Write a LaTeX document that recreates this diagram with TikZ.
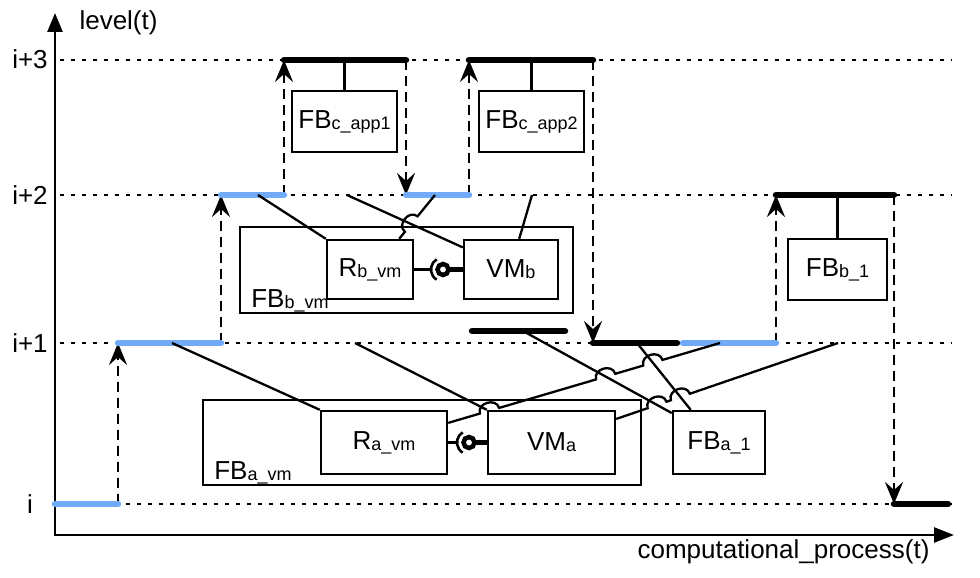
\documentclass[tikz,border=0pt]{standalone}
\usepackage{fontspec}
\setmainfont{Liberation Sans}
\usetikzlibrary{arrows.meta,calc,intersections}
\definecolor{lvlblue}{RGB}{112,170,248}
\newcommand\sbs[1]{{\fontsize{18}{20}\selectfont\raisebox{-1pt}{#1}}}
\begin{document}
\begin{tikzpicture}[x=1pt,y=-1pt,
  every node/.style={font=\fontsize{26}{30}\selectfont},
  box/.style={draw, line width=2.4pt, inner sep=0pt},
  lvl/.style={line width=6.5pt, line cap=round},
  blueseg/.style={lvl, draw=lvlblue},
  blackseg/.style={lvl, draw=black},
  guide/.style={line width=2.6pt, dash pattern=on 3.5pt off 7.5pt},
  jumparrow/.style={line width=2.8pt, dash pattern=on 10pt off 6pt, -{Stealth[length=22pt,width=18pt,inset=8pt]}},
  link/.style={line width=2.3pt},
  axis/.style={line width=2.5pt},
  hop/.style n args={3}{insert path={-- ($(#1)!10pt!(#2)$) .. controls ($(#1)!10pt!(#2)!11pt!90:(#3)$) and ($(#1)!10pt!(#3)!11pt!-90:(#2)$) .. ($(#1)!10pt!(#3)$)}}
]
\useasboundingbox (0,0) rectangle (980,578);

% guides
\foreach \yy in {60,195,343,504} \draw[guide] (60,\yy) -- (952,\yy);

% axes
\coordinate (O) at (55,535);
\coordinate (ytop) at (55,13);
\coordinate (xend) at (954,535);
\draw[axis, {Triangle[length=19pt,width=15pt]}-{Triangle[length=20pt,width=15pt]}] (ytop) -- (O) -- (xend);
\node[anchor=base west] (ylab) at (76,30) {level(t)};
\node[anchor=base east] (xlab) at (933,558) {computational\_process(t)};
\node[anchor=base] (lab3) at (30,69) {i+3};
\node[anchor=base] (lab2) at (30,204) {i+2};
\node[anchor=base] (lab1) at (30,352) {i+1};
\node[anchor=base] (lab0) at (30,513) {i};

% segment end points
\coordinate (s0a) at (55,504);  \coordinate (s0b) at (118,504);
\coordinate (s1a) at (118,343); \coordinate (s1b) at (221,343);
\coordinate (s2a) at (221,195); \coordinate (s2b) at (284,195);
\coordinate (s3a) at (284,60);  \coordinate (s3b) at (406,60);
\coordinate (s4a) at (406,195); \coordinate (s4b) at (469,195);
\coordinate (s5a) at (469,60);  \coordinate (s5b) at (593,60);
\coordinate (s6a) at (593,343); \coordinate (s6b) at (677,343);
\coordinate (s7a) at (683,343); \coordinate (s7b) at (776,343);
\coordinate (s8a) at (776,195); \coordinate (s8b) at (894,195);
\coordinate (s9a) at (894,504); \coordinate (s9b) at (948,504);
\coordinate (sfa) at (472,331); \coordinate (sfb) at (565,331);

% jumps between levels
\draw[jumparrow] (s0b) -- (s1a);
\draw[jumparrow] (s1b) -- (s2a);
\draw[jumparrow] (s2b) -- (s3a);
\draw[jumparrow] (s3b) -- (s4a);
\draw[jumparrow] (s4b) -- (s5a);
\draw[jumparrow] (s5b) -- (s6a);
\draw[jumparrow] (s7b) -- (s8a);
\draw[jumparrow] (s8b) -- (s9a);

% level segments
\draw[blueseg] (s0a) -- (s0b);
\draw[blueseg] (s1a) -- (s1b);
\draw[blueseg] (s2a) -- (s2b);
\draw[blackseg] (s3a) -- (s3b);
\draw[blueseg] (s4a) -- (s4b);
\draw[blackseg] (s5a) -- (s5b);
\draw[blackseg] (s6a) -- (s6b);
\draw[blueseg] (s7a) -- (s7b);
\draw[blackseg] (s8a) -- (s8b);
\draw[blackseg] (s9a) -- (s9b);
\draw[blackseg] (sfa) -- (sfb);

% boxes
\node[box, minimum width=105pt, minimum height=61pt] (fbc1) at (344.5,121.5) {FB\sbs{c\_app1}};
\node[box, minimum width=105pt, minimum height=61pt] (fbc2) at (531.5,121.5) {FB\sbs{c\_app2}};
\node[box, minimum width=99pt, minimum height=61pt] (fbb1) at (837.5,269.5) {FB\sbs{b\_1}};
\node[box, minimum width=333pt, minimum height=86pt] (fbbvm) at (406.5,270) {};
\node[anchor=base west] (fbbvmlab) at ([shift={(9pt,7pt)}]fbbvm.south west) {FB\sbs{b\_vm}};
\node[box, minimum width=86pt, minimum height=59pt] (rbvm) at (370,269.5) {R\sbs{b\_vm}};
\node[box, minimum width=94pt, minimum height=59pt] (vmb) at (511,269.5) {VM\sbs{b}};
\node[box, minimum width=438pt, minimum height=85pt] (fbavm) at (422,442.5) {};
\node[anchor=base west] (fbavmlab) at ([shift={(9pt,7pt)}]fbavm.south west) {FB\sbs{a\_vm}};
\node[box, minimum width=126pt, minimum height=63pt] (ravm) at (384,442.5) {R\sbs{a\_vm}};
\node[box, minimum width=127pt, minimum height=63pt] (vma) at (551.5,442.5) {VM\sbs{a}};
\node[box, minimum width=92pt, minimum height=63pt] (fba1) at (719,442.5) {FB\sbs{a\_1}};

% vertical connectors to upper segments
\draw[link] (fbc1.north) -- (fbc1.north |- s3a);
\draw[link] (fbc2.north) -- (fbc2.north |- s5a);
\draw[link] (fbb1.north) -- (fbb1.north |- s8a);

% lollipop interfaces
\coordinate (bb) at (443,269.5);
\draw[link] (rbvm.east) -- ([xshift=-12pt]bb);
\draw[line width=2.6pt] ([shift={(122:12pt)}]bb) arc[start angle=122, end angle=238, radius=12pt];
\draw[line width=4.5pt] (bb) circle[radius=5.5pt];
\draw[line width=4.5pt] ([xshift=5.5pt]bb) -- (vmb.west);

\coordinate (ab) at (469,442.5);
\draw[link] (ravm.east) -- ([xshift=-12pt]ab);
\draw[line width=2.6pt] ([shift={(122:12pt)}]ab) arc[start angle=122, end angle=238, radius=12pt];
\draw[line width=4.5pt] (ab) circle[radius=5.5pt];
\draw[line width=4.5pt] ([xshift=5.5pt]ab) -- (vma.west);

% connector end points
\coordinate (p1) at (172,343);
\coordinate (p2) at (355,343);
\coordinate (a3) at ($(ravm.north east)!0.2!(ravm.south east)$);
\coordinate (b3) at (720,343);
\coordinate (a4) at ($(vma.north east)!0.14!(vma.south east)$);
\coordinate (b4) at (838,343);
\coordinate (p5) at (523,331);
\coordinate (e5) at ($(fba1.north west)!0.05!(fba1.south west)$);
\coordinate (p6) at (637,343);
\coordinate (e6) at ($(fba1.north west)!0.2!(fba1.north east)$);
\coordinate (p7) at (258,195);
\coordinate (p8) at (347,195);
\coordinate (e8) at ($(vmb.north west)!0.14!(vmb.south west)$);
\coordinate (a9) at ($(rbvm.north west)!0.83!(rbvm.north east)$);
\coordinate (b9) at (435,195);
\coordinate (p10) at (532,195);
\coordinate (e10) at ($(vmb.north west)!0.585!(vmb.north east)$);

% straight connectors
\draw[link] (p1) -- (ravm.north west);
\draw[link] (p2) -- (vma.north west);
\draw[link, name path=l5p] (p5) -- (e5);
\draw[link, name path=l6p] (p6) -- (e6);
\draw[link] (p7) -- (rbvm.north west);
\draw[link, name path=l8p] (p8) -- (e8);
\draw[link] (p10) -- (e10);

% connectors with line jumps
\path[name path=l3p] (a3) -- (b3);
\path[name path=l4p] (a4) -- (b4);
\path[name path=l9p] (a9) -- (b9);
\coordinate (X1) at ($(a3)!0.152!(b3)$);
\path[name intersections={of=l3p and l5p, by=X2}];
\path[name intersections={of=l3p and l6p, by=X3}];
\path[name intersections={of=l4p and l5p, by=Y1}];
\path[name intersections={of=l4p and l6p, by=Y2}];
\path[name intersections={of=l9p and l8p, by=Z1}];

\draw[link] (a3) [hop={X1}{a3}{b3}] [hop={X2}{a3}{b3}] [hop={X3}{a3}{b3}] -- (b3);
\draw[link] (a4) [hop={Y1}{a4}{b4}] [hop={Y2}{a4}{b4}] -- (b4);
\draw[link] (a9) [hop={Z1}{a9}{b9}] -- (b9);
\end{tikzpicture}
\end{document}
